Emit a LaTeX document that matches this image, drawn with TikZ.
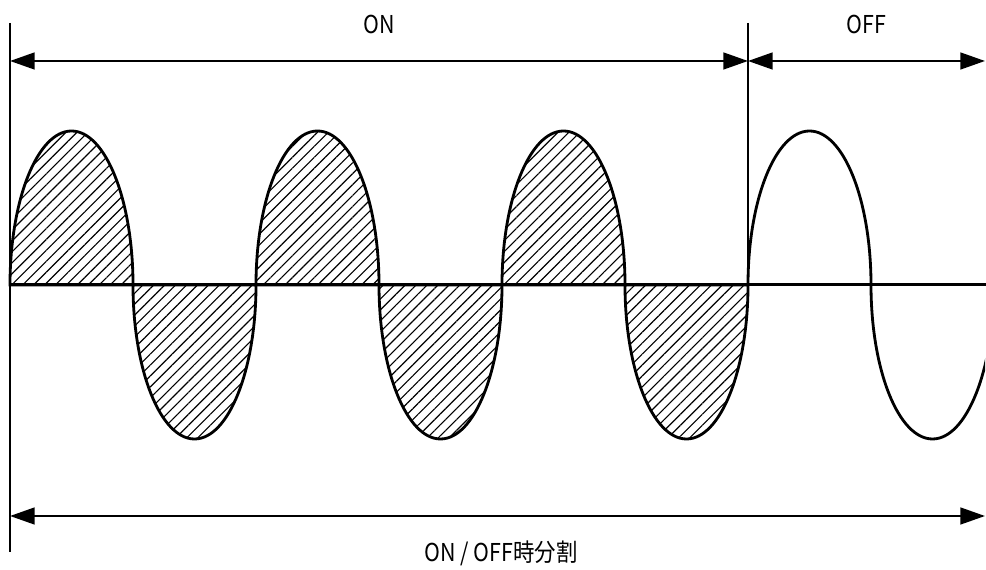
\documentclass[tikz,border=0pt]{standalone}
\usepackage{fontspec}
\setmainfont{Noto Sans CJK JP}[FakeStretch=0.87]
\usetikzlibrary{arrows.meta, patterns.meta}

\begin{document}
\begin{tikzpicture}[x=0.02cm, y=0.02cm, every node/.style={font=\fontsize{14}{16}\selectfont, inner sep=0pt},
			wave/.style={line width=1.6pt},
			hatch/.style={pattern={Lines[angle=45, distance=4.4pt, line width=0.65pt]}},
			dim/.style={{Triangle[length=14pt, width=9.5pt]}-{Triangle[length=14pt, width=9.5pt]}, line width=1.3pt},
			guide/.style={line width=0.9pt}]
			\useasboundingbox (0,0) rectangle (986,570);
			\coordinate (tl) at (10,547);
			\coordinate (bl) at (10,18);
			\coordinate (tm) at (748,547);
			\coordinate (am) at (748,285);
			\coordinate (onl) at (10,509);
			\coordinate (onr) at (748,509);
			\coordinate (offr) at (985,509);
			\coordinate (alll) at (10,54);
			\coordinate (allr) at (985,54);
			\coordinate (ax0) at (10,285);
			\coordinate (ax1) at (986,285);
			% hatched half waves (ON)
			\foreach \i in {0,2,4}
				\draw[wave, hatch] (10+123*\i,285) arc[start angle=180, end angle=0, x radius=61.5, y radius=154] -- cycle;
			\foreach \i in {1,3,5}
				\draw[wave, hatch] (10+123*\i,285) arc[start angle=180, end angle=360, x radius=61.5, y radius=154] -- cycle;
			% OFF
			\begin{scope}
				\clip (740,0) rectangle (985,570);
				\draw[wave] (748,285) arc[start angle=180, end angle=0, x radius=61.5, y radius=154]
					arc[start angle=180, end angle=360, x radius=61.5, y radius=154];
			\end{scope}
			\draw[line width=1.7pt] (ax0) -- (ax1);
			\draw[guide] (tl) -- (bl);
			\draw[guide] (tm) -- (am);
			\draw[dim] (onl) -- (onr) node[midway, above=15pt] (on) {ON};
			\draw[dim] (onr) -- (offr) node[midway, above=15pt] (off) {OFF};
			\draw[dim] (alll) -- (allr);
			\node (lbl) at (501,17) {ON / OFF時分割};
		\end{tikzpicture}
\end{document}
